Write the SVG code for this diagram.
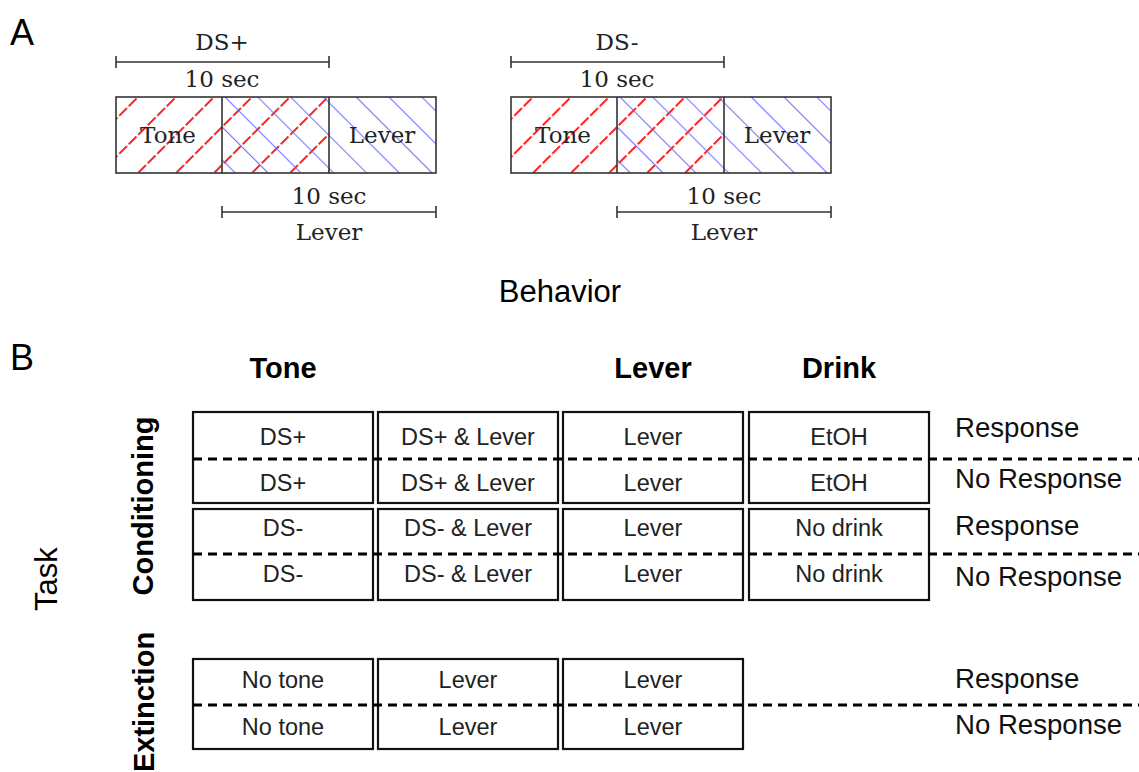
<svg xmlns="http://www.w3.org/2000/svg" width="1139" height="772" viewBox="0 0 1139 772">
<style>
.serif{font-family:"DejaVu Serif",serif;font-size:23px;fill:#222;text-anchor:middle}
.lab{font-family:"Liberation Sans",Arial,sans-serif;font-size:36px;fill:#000}
.big{font-family:"Liberation Sans",Arial,sans-serif;font-size:31px;fill:#000;text-anchor:middle}
.hdr{font-family:"Liberation Sans",Arial,sans-serif;font-size:29px;font-weight:bold;fill:#000;text-anchor:middle}
.cell{font-family:"Liberation Sans",Arial,sans-serif;font-size:23.5px;fill:#222;text-anchor:middle}
.resp{font-family:"Liberation Sans",Arial,sans-serif;font-size:27.6px;fill:#111}
.box{fill:#fff;stroke:#111;stroke-width:2.2}
.abox{fill:none;stroke:#333;stroke-width:1.6}
.brk{stroke:#333;stroke-width:1.6;fill:none}
.dash{stroke:#000;stroke-width:3.2;stroke-dasharray:9 6;fill:none}
</style>
<defs>
<pattern id="red" patternUnits="userSpaceOnUse" width="26.87" height="26.87" patternTransform="rotate(45)">
<line x1="4.95" y1="0" x2="4.95" y2="26.87" stroke="#ff1a1a" stroke-width="2" stroke-dasharray="11 2.4"/>
</pattern>
<pattern id="blue" patternUnits="userSpaceOnUse" width="23.2" height="23.2" patternTransform="rotate(-45)">
<line x1="20.9" y1="0" x2="20.9" y2="23.2" stroke="#6a6aff" stroke-width="1"/>
</pattern>
</defs>
<rect width="1139" height="772" fill="#fff"/>

<text class="lab" x="10" y="45">A</text>
<text class="lab" x="10" y="370">B</text>

<g id="ds-plus">
<text class="serif" x="222" y="50">DS+</text>
<path class="brk" d="M116 62H329M116 56V68M329 56V68"/>
<text class="serif" x="222" y="87">10 sec</text>
<rect x="116" y="97" width="213" height="76" fill="url(#red)"/>
<rect x="222" y="97" width="214" height="76" fill="url(#blue)"/>
<rect class="abox" x="116" y="97" width="320" height="76"/>
<path class="brk" d="M222 97V173M329 97V173"/>
<text class="serif" x="168" y="143">Tone</text>
<text class="serif" x="382" y="143">Lever</text>
<text class="serif" x="329" y="204">10 sec</text>
<path class="brk" d="M222 212H436M222 206V218M436 206V218"/>
<text class="serif" x="329" y="240">Lever</text>
</g>

<g id="ds-minus" transform="translate(395,0)">
<text class="serif" x="222" y="50">DS-</text>
<path class="brk" d="M116 62H329M116 56V68M329 56V68"/>
<text class="serif" x="222" y="87">10 sec</text>
<rect x="116" y="97" width="213" height="76" fill="url(#red)"/>
<rect x="222" y="97" width="214" height="76" fill="url(#blue)"/>
<rect class="abox" x="116" y="97" width="320" height="76"/>
<path class="brk" d="M222 97V173M329 97V173"/>
<text class="serif" x="168" y="143">Tone</text>
<text class="serif" x="382" y="143">Lever</text>
<text class="serif" x="329" y="204">10 sec</text>
<path class="brk" d="M222 212H436M222 206V218M436 206V218"/>
<text class="serif" x="329" y="240">Lever</text>
</g>

<text class="big" x="560" y="302">Behavior</text>
<text class="big" transform="translate(57,579) rotate(-90)">Task</text>

<g id="headers">
<text class="hdr" x="283" y="378">Tone</text>
<text class="hdr" x="653" y="378">Lever</text>
<text class="hdr" x="839" y="378">Drink</text>
</g>

<text class="hdr" transform="translate(153,506) rotate(-90)">Conditioning</text>
<text class="hdr" transform="translate(154,702) rotate(-90)">Extinction</text>

<g id="cond-ds-plus">
<rect class="box" x="193" y="412" width="180" height="91"/>
<rect class="box" x="378" y="412" width="180" height="91"/>
<rect class="box" x="563" y="412" width="180" height="91"/>
<rect class="box" x="749" y="412" width="180" height="91"/>
<text class="cell" x="283" y="445">DS+</text>
<text class="cell" x="468" y="445">DS+ &amp; Lever</text>
<text class="cell" x="653" y="445">Lever</text>
<text class="cell" x="839" y="445">EtOH</text>
<text class="cell" x="283" y="491">DS+</text>
<text class="cell" x="468" y="491">DS+ &amp; Lever</text>
<text class="cell" x="653" y="491">Lever</text>
<text class="cell" x="839" y="491">EtOH</text>
</g>

<g id="cond-ds-minus">
<rect class="box" x="193" y="509" width="180" height="91"/>
<rect class="box" x="378" y="509" width="180" height="91"/>
<rect class="box" x="563" y="509" width="180" height="91"/>
<rect class="box" x="749" y="509" width="180" height="91"/>
<text class="cell" x="283" y="536">DS-</text>
<text class="cell" x="468" y="536">DS- &amp; Lever</text>
<text class="cell" x="653" y="536">Lever</text>
<text class="cell" x="839" y="536">No drink</text>
<text class="cell" x="283" y="582">DS-</text>
<text class="cell" x="468" y="582">DS- &amp; Lever</text>
<text class="cell" x="653" y="582">Lever</text>
<text class="cell" x="839" y="582">No drink</text>
</g>

<g id="extinction">
<rect class="box" x="193" y="659" width="180" height="90"/>
<rect class="box" x="378" y="659" width="180" height="90"/>
<rect class="box" x="563" y="659" width="180" height="90"/>
<text class="cell" x="283" y="688">No tone</text>
<text class="cell" x="468" y="688">Lever</text>
<text class="cell" x="653" y="688">Lever</text>
<text class="cell" x="283" y="735">No tone</text>
<text class="cell" x="468" y="735">Lever</text>
<text class="cell" x="653" y="735">Lever</text>
</g>

<g id="connectors">
<path class="dash" d="M193 459H1139M193 554H1139M193 705H1139"/>
</g>

<g id="responses">
<text class="resp" x="955" y="437">Response</text>
<text class="resp" x="955" y="488">No Response</text>
<text class="resp" x="955" y="535">Response</text>
<text class="resp" x="955" y="586">No Response</text>
<text class="resp" x="955" y="688">Response</text>
<text class="resp" x="955" y="734">No Response</text>
</g>
</svg>
